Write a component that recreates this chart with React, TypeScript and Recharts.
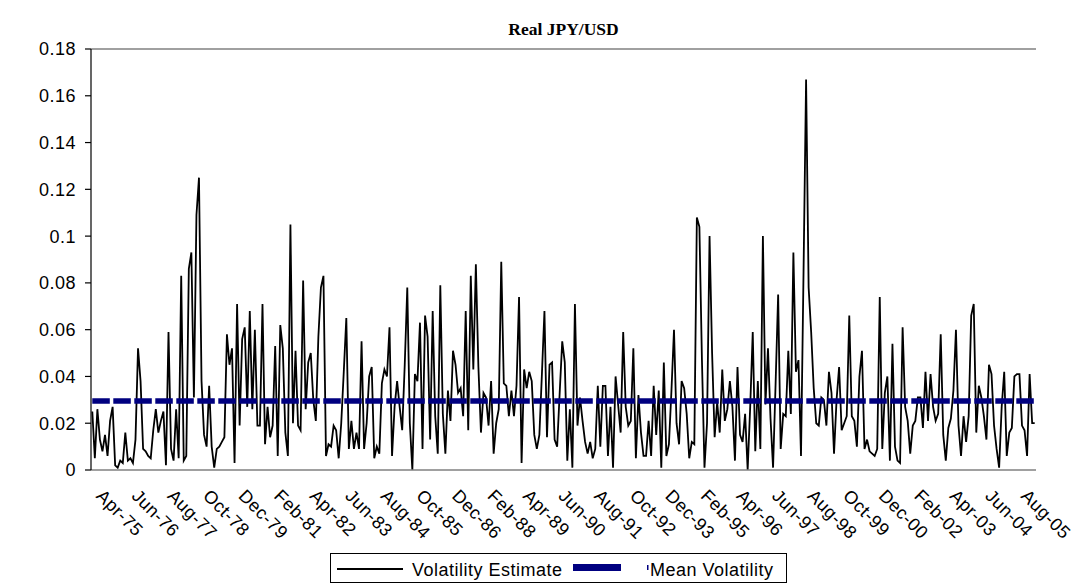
import React from 'react';
import { LineChart, Line, XAxis, YAxis, ReferenceLine, Legend } from 'recharts';

const MONTH_NAMES = ['Jan', 'Feb', 'Mar', 'Apr', 'May', 'Jun', 'Jul', 'Aug', 'Sep', 'Oct', 'Nov', 'Dec'];
const START_YEAR = 1975;
const START_MONTH_INDEX = 3; // Apr-75

const volatility: number[] = [
  // Apr-75 ...
  0.025, 0.005, 0.026, 0.013, 0.008, 0.015, 0.006, 0.021, 0.027, 0.002,
  0.001, 0.004, 0.003, 0.016, 0.004, 0.005, 0.003, 0.013, 0.052, 0.038,
  0.009, 0.008, 0.006, 0.005, 0.017, 0.026, 0.016, 0.021, 0.025, 0.002,
  0.059, 0.009, 0.004, 0.026, 0.005, 0.083, 0.004, 0.006, 0.086, 0.093,
  0.031, 0.109, 0.125, 0.038, 0.015, 0.010, 0.036,
  0.010, 0.001, 0.009, 0.010, 0.012, 0.014, 0.058, 0.045, 0.052, 0.003,
  0.071, 0.019, 0.056, 0.061, 0.027, 0.068, 0.026, 0.060, 0.019, 0.019,
  0.071, 0.011, 0.027, 0.014, 0.019, 0.053, 0.006, 0.062, 0.052, 0.016,
  0.006, 0.105, 0.020, 0.051, 0.019, 0.017, 0.081, 0.026, 0.046, 0.050,
  0.030, 0.021, 0.057, 0.078, 0.083, 0.006,
  0.011, 0.010, 0.019, 0.017, 0.005, 0.020, 0.042, 0.065, 0.009, 0.021,
  0.009, 0.016, 0.009, 0.055, 0.009, 0.020, 0.040, 0.044, 0.005, 0.010,
  0.007, 0.037, 0.043, 0.040, 0.061, 0.006, 0.027, 0.038, 0.027, 0.017,
  0.045, 0.078, 0.020, 0.000, 0.041, 0.038, 0.063, 0.009, 0.066, 0.057,
  0.013, 0.068, 0.023, 0.007, 0.079, 0.024, 0.007, 0.034,
  0.021, 0.051, 0.045, 0.033, 0.035, 0.023, 0.068, 0.017, 0.083, 0.043,
  0.088, 0.044, 0.016, 0.033, 0.031, 0.019, 0.038, 0.007, 0.020, 0.026,
  0.089, 0.037, 0.036, 0.023, 0.034, 0.023, 0.036, 0.074, 0.003, 0.043,
  0.035, 0.042, 0.038, 0.015, 0.009, 0.015, 0.041, 0.068, 0.014, 0.045,
  0.046, 0.013, 0.010, 0.033, 0.055, 0.046, 0.004,
  0.026, 0.001, 0.071, 0.019, 0.031, 0.021, 0.012, 0.007, 0.012, 0.005,
  0.009, 0.036, 0.010, 0.036, 0.036, 0.006, 0.027, 0.001, 0.040, 0.028,
  0.016, 0.059, 0.027, 0.019, 0.021, 0.052, 0.005, 0.032, 0.016, 0.006,
  0.006, 0.021, 0.006, 0.036, 0.015, 0.034, 0.001, 0.046, 0.006, 0.011,
  0.034, 0.060, 0.020, 0.011, 0.038, 0.035, 0.024,
  0.005, 0.012, 0.011, 0.108, 0.104, 0.047, 0.001, 0.020, 0.100, 0.050,
  0.014, 0.029, 0.016, 0.043, 0.021, 0.026, 0.038, 0.027, 0.004, 0.044,
  0.015, 0.012, 0.024, 0.000, 0.027, 0.059, 0.008, 0.038, 0.009, 0.100,
  0.028, 0.052, 0.022, 0.001, 0.037, 0.075, 0.009, 0.024, 0.023, 0.051,
  0.024, 0.093, 0.042, 0.047, 0.006, 0.085, 0.167,
  0.078, 0.059, 0.035, 0.020, 0.019, 0.031, 0.030, 0.019, 0.042, 0.033,
  0.007, 0.030, 0.044, 0.017, 0.020, 0.023, 0.066, 0.023, 0.021, 0.010,
  0.040, 0.051, 0.009, 0.013, 0.008, 0.007, 0.006, 0.009, 0.074, 0.009,
  0.033, 0.040, 0.004, 0.054, 0.010, 0.004, 0.003, 0.061, 0.027, 0.021,
  0.007, 0.019, 0.021, 0.031, 0.031, 0.018, 0.042, 0.021,
  0.041, 0.027, 0.021, 0.024, 0.058, 0.015, 0.004, 0.018, 0.022, 0.034,
  0.060, 0.019, 0.006, 0.023, 0.012, 0.023, 0.066, 0.071, 0.016, 0.036,
  0.031, 0.023, 0.013, 0.045, 0.041, 0.019, 0.009, 0.001, 0.027, 0.042,
  0.006, 0.016, 0.018, 0.040, 0.041, 0.041, 0.019, 0.017, 0.006, 0.041,
  0.020, 0.020,
];

const MEAN_VOLATILITY = 0.0295;
const Y_TICKS = [0, 0.02, 0.04, 0.06, 0.08, 0.1, 0.12, 0.14, 0.16, 0.18];

const categories: string[] = volatility.map((_, i) => {
  const m = START_MONTH_INDEX + i;
  const yr = START_YEAR + Math.floor(m / 12);
  return `${MONTH_NAMES[m % 12]}-${String(yr % 100).padStart(2, '0')}`;
});

const data = categories.map((month, i) => ({
  month,
  vol: volatility[i],
  mean: MEAN_VOLATILITY,
}));

const SANS = '"Liberation Sans", Arial, sans-serif';

const AngledTick = (props: any) => {
  const { x, y, payload } = props;
  const ax = x + 3;
  const ay = y + 27;
  return (
    <text
      x={ax}
      y={ay}
      transform={`rotate(45, ${ax}, ${ay})`}
      textAnchor="start"
      fontSize={18}
      fontFamily={SANS}
      letterSpacing={0.5}
      fill="#000"
    >
      {payload.value}
    </text>
  );
};

const LegendBox = () => (
  <div
    style={{
      width: 457,
      height: 30,
      boxSizing: 'border-box',
      border: '1px solid #000',
      background: '#fff',
      position: 'relative',
    }}
  >
    <svg width={455} height={28} style={{ position: 'absolute', left: 0, top: 0 }}>
      <line x1={6} x2={72} y1={15} y2={15} stroke="#000" strokeWidth={2} />
      <text x={81} y={22} fontSize={18} fontFamily={SANS} letterSpacing={0.5} fill="#000">
        Volatility Estimate
      </text>
      <rect x={242} y={10} width={48} height={7} fill="#000080" />
      <rect x={316} y={11} width={1.5} height={5} fill="#000080" />
      <text x={319} y={22} fontSize={18} fontFamily={SANS} letterSpacing={0.5} fill="#000">
        Mean Volatility
      </text>
    </svg>
  </div>
);

const fmt = (v: number) => String(parseFloat(v.toFixed(2)));

export default function App() {
  return (
    <div style={{ position: 'absolute', left: 0, top: 0, width: 1076, height: 585, background: '#fff' }}>
      <div
        style={{
          position: 'absolute',
          left: 463.5,
          width: 200,
          top: 20,
          textAlign: 'center',
          fontFamily: '"Liberation Serif", "Times New Roman", serif',
          fontWeight: 'bold',
          fontSize: 17.5,
          lineHeight: '18px',
          color: '#000',
        }}
      >
        Real JPY/USD
      </div>
      <LineChart
        width={1076}
        height={585}
        data={data}
        margin={{ top: 49, right: 40, bottom: 0, left: 0 }}
      >
        <XAxis
          dataKey="month"
          interval={13}
          tickLine={false}
          tickSize={0}
          tickMargin={0}
          height={115}
          axisLine={{ stroke: '#808080', strokeWidth: 1.5 }}
          tick={<AngledTick />}
          padding={{ left: 1.3, right: 1.3 }}
        />
        <YAxis
          domain={[0, 0.18]}
          ticks={Y_TICKS}
          width={91}
          tickSize={6}
          tickMargin={9}
          allowDataOverflow
          axisLine={{ stroke: '#000', strokeWidth: 1.2 }}
          tickLine={{ stroke: '#000', strokeWidth: 1.2 }}
          tick={{ fill: '#000', fontSize: 18, fontFamily: SANS, letterSpacing: 0.5 }}
          tickFormatter={fmt}
        />
        <YAxis
          yAxisId="right"
          orientation="right"
          width={0}
          domain={[0, 0.18]}
          tick={false}
          tickLine={false}
          axisLine={{ stroke: '#808080', strokeWidth: 1.5 }}
        />
        <ReferenceLine y={0.18} stroke="#808080" strokeWidth={1.5} />
        <Line
          dataKey="vol"
          name="Volatility Estimate"
          stroke="#000"
          strokeWidth={1.8}
          dot={false}
          activeDot={false}
          isAnimationActive={false}
        />
        <Line
          dataKey="mean"
          name="Mean Volatility"
          stroke="#000080"
          strokeWidth={5.5}
          strokeDasharray="17.5 3.5"
          dot={false}
          activeDot={false}
          isAnimationActive={false}
        />
        <Legend
          layout="horizontal"
          verticalAlign="middle"
          align="center"
          wrapperStyle={{ left: 330, top: 553, width: 457, height: 30, bottom: 'auto', right: 'auto' }}
          content={<LegendBox />}
        />
      </LineChart>
    </div>
  );
}
